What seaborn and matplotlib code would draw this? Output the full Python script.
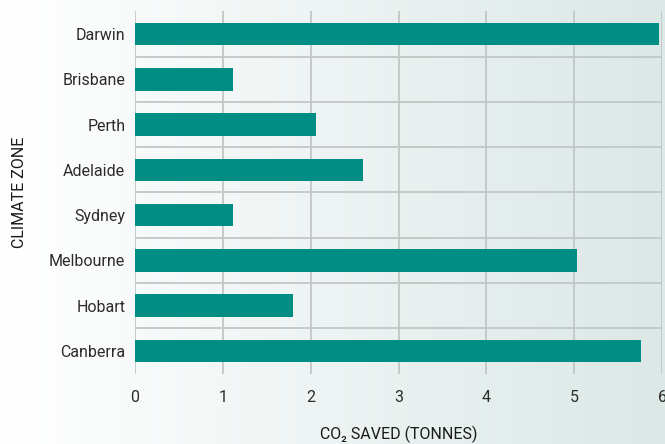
import numpy as np
import pandas as pd
import matplotlib
matplotlib.use("Agg")
import matplotlib.pyplot as plt
import seaborn as sns
from matplotlib.colors import LinearSegmentedColormap

cities = ["Darwin", "Brisbane", "Perth", "Adelaide", "Sydney", "Melbourne", "Hobart", "Canberra"]
co2_saved = [5.97, 1.12, 2.06, 2.60, 1.12, 5.03, 1.80, 5.76]
x_ticks = [0, 1, 2, 3, 4, 5, 6]

df = pd.DataFrame({"city": cities, "co2": co2_saved})

sns.set_style("white")
plt.rcParams["font.family"] = ["Roboto", "DejaVu Sans"]

fig = plt.figure(figsize=(6.65, 4.44), dpi=100)

# background gradient
bg = fig.add_axes([0, 0, 1, 1], zorder=-10)
cmap = LinearSegmentedColormap.from_list("bg", ["#ffffff", "#dbe8e6"])
grad = np.linspace(0, 1, 256).reshape(1, -1)
bg.imshow(grad, aspect="auto", cmap=cmap, extent=[0, 1, 0, 1])
bg.axis("off")

ax = fig.add_axes([0.203, 0.1586, 0.7925, 0.8157])
ax.patch.set_alpha(0)
sns.barplot(data=df, y="city", x="co2", color="#008e84", width=0.5, saturation=1,
            linewidth=0, edgecolor="none", ax=ax, zorder=3)

ax.set_xlim(0, 6)
ax.set_ylim(7.5, -0.5)
ax.set_xticks(x_ticks)
ax.set_yticks(np.arange(0.5, 7, 1), minor=True)
ax.grid(axis="x", which="major", color="#c2c6c6", lw=1.3, zorder=0)
ax.grid(axis="y", which="minor", color="#c2c6c6", lw=1.3, zorder=0)
ax.grid(axis="y", which="major", visible=False)
for s in ax.spines.values():
    s.set_visible(False)
ax.tick_params(axis="both", which="both", length=0)
ax.tick_params(axis="y", pad=7, labelsize=11.5, labelcolor="#2b2b2b")
ax.tick_params(axis="x", pad=12, labelsize=11.5, labelcolor="#2b2b2b")

ax.set_ylabel("CLIMATE ZONE", fontsize=11.5, color="#1a1a1a", labelpad=16)
ax.set_xlabel("CO₂ SAVED (TONNES)", fontsize=11.5, color="#1a1a1a", labelpad=15)

fig.savefig("out.png", dpi=100)
